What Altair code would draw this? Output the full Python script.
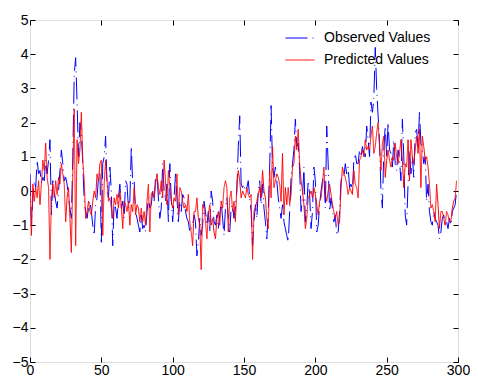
import altair as alt
import pandas as pd

observed = [
    0.5, -1.0, -0.2, 0.3, 0.1, 0.9, 0.5, 0.6, 0.2, 0.4,
    0.3, 0.9, 0.5, 0.9, 1.5, -0.7, 0.3, 0.0, -0.3, -0.5,
    0.0, 0.6, 1.2, 0.8, 0.3, 0.4, 0.2, -0.2, -0.5, -0.8,
    1.0, 3.4, 3.9, 2.6, 1.0, 2.0, 1.7, 0.8, -0.3, -0.6,
    -0.8, -0.5, -0.3, -0.6, -1.0, -1.3, -0.4, -0.2, 0.4, 0.6,
    -1.5, 0.8, 1.0, 1.6, 0.2, -0.2, 0.7, 0.0, -1.6, -0.3,
    -0.5, -0.8, -0.2, 0.2, -0.5, -0.3, -0.8, 0.3, 0.2, -0.5,
    -0.3, 1.3, 0.2, 0.3, -0.6, -0.8, -1.0, -1.2, -0.7, -1.1,
    -1.0, -1.2, -0.6, -0.2, -0.5, -0.4, 0.0, -0.3, 0.4, 0.5,
    -0.2, -0.8, -0.5, 0.8, 0.0, -0.3, 0.2, -0.9, 0.8, -0.2,
    -0.9, -0.2, 0.5, -0.2, -0.9, -0.3, -0.6, -0.1, -0.2, -0.6,
    -0.8, -0.9, -1.2, -1.1, -1.0, -0.7, -0.9, -1.9, -1.5, -0.8,
    -1.3, -1.0, -0.3, -0.6, -1.0, -0.6, -1.2, 0.0, -0.3, -0.9,
    -1.0, -0.7, -1.1, -0.7, -0.3, -0.8, -1.3, -0.5, -0.2, -0.8,
    -1.2, -0.5, -0.4, -0.8, -0.5, 0.0, 1.3, 2.2, 0.2, 0.1,
    0.2, 0.0, 0.1, 0.3, -0.2, -0.6, -1.6, -0.9, -0.4, -0.8,
    0.0, 0.3, -0.4, 0.2, -0.5, -0.9, -1.4, -0.6, 0.7, 2.5,
    0.7, 0.4, 0.7, 0.3, -0.2, -0.5, -0.8, -0.4, -0.9, -1.1,
    -1.3, -1.5, -0.6, 0.4, 0.8, 1.2, 2.1, 1.3, 1.4, 0.6,
    -0.6, -0.2, 0.7, -0.9, -0.5, 0.3, -0.1, -1.1, -0.6, 0.7,
    0.3, -1.2, -1.0, -0.4, 0.0, 0.3, 0.5, -0.5, 1.9, 0.8,
    -0.6, -0.2, -0.5, -0.9, -0.7, -1.3, -1.2, -0.6, 0.3, 0.5,
    0.4, 0.8, 0.5, 0.7, 0.1, 0.2, 0.0, 0.9, 1.1, 0.8,
    0.8, 1.2, 1.0, 1.3, 1.1, 1.0, 1.9, 1.5, 1.0, 2.6,
    2.3, 2.7, 4.2, 3.0, 2.2, 1.4, 0.0, -0.5, 1.2, 1.9,
    1.0, 2.0, 1.2, 1.1, 0.7, 1.5, 0.8, 0.6, 1.2, 0.9,
    0.3, 2.1, 1.0, -0.7, -1.0, 0.2, 1.2, 0.5, 1.0, 0.4,
    1.7, 1.8, 1.3, 2.3, 1.4, 1.2, 0.8, 1.0, -0.3, 0.2,
    -0.6, -0.9, -1.0, -0.6, -0.8, -0.9, -1.0, -1.4, -1.2, -0.8,
    -0.7, -1.0, -0.9, -1.1, -0.8, -1.0, -0.6, -0.5, -0.4, 0.0,
]

predicted = [
    0.3, -1.3, 0.2, -0.3, 0.1, -0.2, 0.3, -0.4, 0.2, 0.9,
    0.6, 1.4, 0.4, 0.1, -2.0, -0.3, 0.2, -0.2, 0.3, -0.1,
    0.4, 0.2, 0.8, 0.5, 0.2, -0.9, -0.2, 0.1, -0.8, -1.8,
    0.5, 2.4, -1.6, 1.5, 0.8, 1.2, 2.3, 0.9, 0.3, -0.8,
    -0.6, -0.3, -0.6, -0.7, -0.3, 0.0, -0.2, 0.5, 0.3, 0.8,
    0.9, -1.3, 0.2, 0.9, 0.3, -0.3, -0.2, -0.5, -0.8, -0.2,
    -0.4, -0.1, -0.5, 0.0, -0.4, -1.1, -0.3, -0.4, -0.6, -0.3,
    -1.0, -0.4, -0.6, 0.1, -0.7, -0.4, -0.5, -0.9, -0.5, -0.9,
    -0.6, -1.0, -0.3, 0.2, -1.2, -0.1, 0.0, -0.2, 0.2, 0.5,
    0.1, -0.1, 0.3, -0.2, 0.9, 0.3, -0.4, 0.6, 0.1, -0.3,
    -0.5, -0.2, -0.3, 0.5, -0.7, 0.1, 0.0, -0.3, -0.5, -0.4,
    -0.6, -0.1, -0.9, -1.2, -1.6, -0.6, -0.6, -0.2, -0.8, -1.0,
    -2.3, -0.4, -0.5, -0.9, -1.4, -0.7, -0.4, -1.0, -0.8, -1.2,
    -1.4, -0.8, -0.6, -1.0, -0.3, -0.5, 0.1, 0.3, 0.1, -1.2,
    -0.2, 0.0, -0.6, -0.3, -0.9, 0.2, 0.6, 0.3, -0.2, 0.0,
    -0.1, -0.2, 0.1, -0.1, -0.2, -0.1, -2.0, -0.6, -0.5, -0.3,
    -0.1, 0.1, -0.2, 0.6, 0.0, -0.2, -0.8, -1.1, 0.6, -0.2,
    1.3, 0.1, 0.3, 0.5, 0.4, 0.2, -0.3, 1.1, -0.7, 0.1,
    -0.4, 0.1, -0.4, -0.1, 0.7, 0.8, 1.6, 1.2, 1.8, 0.8,
    0.3, 0.0, -0.4, -1.1, -0.8, -0.2, -0.1, 0.0, -0.2, 0.1,
    -0.1, -0.4, -0.7, -0.3, -0.2, 0.2, 0.7, -0.1, -0.3, 0.0,
    0.2, -0.1, -0.4, -0.6, -0.8, -0.6, -1.0, -0.9, 0.1, 0.7,
    0.5, 0.4, 0.2, -0.1, 0.1, 0.0, -0.1, 0.6, 0.2, 0.1,
    -0.2, 0.9, 1.0, 1.2, 1.0, 1.5, 1.2, 1.3, 1.2, 1.6,
    1.9, 1.1, 1.3, 1.7, 2.0, 1.3, 0.6, 1.4, 1.6, 0.4,
    0.9, 1.2, 0.9, 0.7, 1.0, 0.9, 1.4, 1.0, 0.8, 1.1,
    1.5, 0.9, 0.1, 0.8, 0.7, 1.5, 0.3, 1.5, 1.0, 0.8,
    1.2, 1.6, 1.1, 1.8, 0.1, 1.6, 1.3, 0.9, 1.0, 0.7,
    0.2, -0.5, -0.4, -0.6, -0.9, 0.2, -0.4, -1.1, -0.6, -0.6,
    -0.8, -1.0, -0.6, -0.7, -0.9, -0.9, -0.5, -0.3, -0.2, 0.3,
]

series_names = ["Observed Values", "Predicted Values"]
series_colors = ["#0000ff", "#ff0000"]
x_ticks = [0, 50, 100, 150, 200, 250, 300]
y_ticks = [-5, -4, -3, -2, -1, 0, 1, 2, 3, 4, 5]

rows = []
for i, v in enumerate(observed):
    rows.append({"idx": i, "value": v, "series": series_names[0]})
for i, v in enumerate(predicted):
    rows.append({"idx": i, "value": v, "series": series_names[1]})
df = pd.DataFrame(rows)

FONT = "Liberation Sans"
xscale = alt.Scale(domain=[0, 300], nice=False, zero=False)
yscale = alt.Scale(domain=[-5, 5], nice=False, zero=False)

common_axis = dict(grid=False, domain=False, tickSize=5, offset=-5,
                   tickColor="black", labelColor="black", labelFont=FONT,
                   labelFontSize=14, title=None)

lines = alt.Chart(df).mark_line(strokeWidth=1, clip=True).encode(
    x=alt.X("idx:Q", scale=xscale,
            axis=alt.Axis(orient="bottom", values=x_ticks, labelPadding=1,
                          labelFlush=False, **common_axis)),
    y=alt.Y("value:Q", scale=yscale,
            axis=alt.Axis(orient="left", values=y_ticks, labelPadding=2,
                          labelFlush=False, **common_axis)),
    color=alt.Color("series:N",
                    scale=alt.Scale(domain=series_names, range=series_colors),
                    legend=alt.Legend(title=None, orient="none", legendX=255,
                                      legendY=3, symbolType="stroke",
                                      symbolSize=841, symbolStrokeWidth=1,
                                      labelFont=FONT, labelFontSize=14,
                                      labelColor="black", labelOffset=9,
                                      rowPadding=-7)),
    strokeDash=alt.StrokeDash("series:N",
                              scale=alt.Scale(domain=series_names,
                                              range=[[22, 5, 1, 5], [1, 0]]),
                              legend=None),
    detail="series:N",
)

frame = alt.Chart(df).mark_line(opacity=0).encode(
    x=alt.X("idx:Q", scale=xscale,
            axis=alt.Axis(orient="top", values=x_ticks, labels=False,
                          **common_axis)),
    y=alt.Y("value:Q", scale=yscale,
            axis=alt.Axis(orient="right", values=y_ticks, labels=False,
                          **common_axis)),
)

chart = alt.layer(lines, frame).resolve_axis(
    x="independent", y="independent"
).properties(
    width=428, height=342,
    autosize=alt.AutoSizeParams(type="none"),
    padding={"left": 22, "top": 12, "right": 12, "bottom": 18},
).configure_view(stroke="black", strokeWidth=1.2).configure(background="white")

chart.save("out.html", embed_options={"renderer": "svg", "actions": False})
